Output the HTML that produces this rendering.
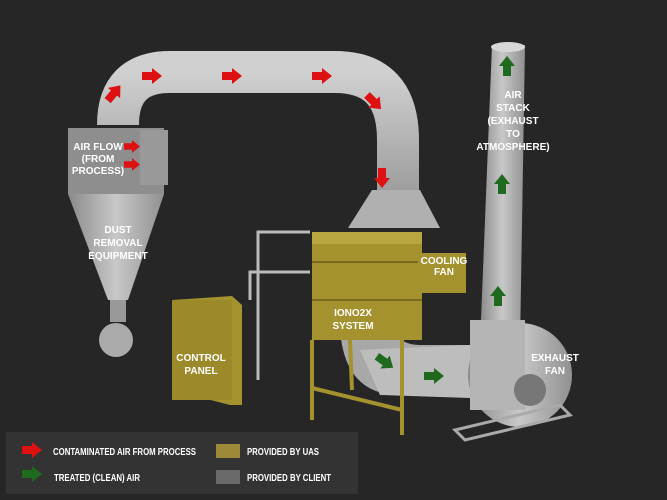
<!DOCTYPE html>
<html><head><style>
body{margin:0;background:#262626;}
svg{display:block}
text{font-family:"Liberation Sans",sans-serif;font-weight:bold;fill:#fff;font-size:10px}
</style></head><body>
<svg width="667" height="500" viewBox="0 0 667 500">
<defs>
<linearGradient id="g" x1="0" y1="0" x2="1" y2="0"><stop offset="0" stop-color="#8a8a8a"/><stop offset=".5" stop-color="#c8c8c8"/><stop offset="1" stop-color="#909090"/></linearGradient>
<linearGradient id="gv" x1="0" y1="0" x2="0" y2="1"><stop offset="0" stop-color="#d0d0d0"/><stop offset="1" stop-color="#9a9a9a"/></linearGradient>
<symbol id="ar" viewBox="0 0 20 16"><polygon points="0,4 10,4 10,0 20,8 10,16 10,12 0,12"/></symbol>
</defs>
<rect width="667" height="500" fill="#262626"/>
<path d="M118,125 Q118,72 170,72 L335,72 Q398,72 398,140 L398,200" fill="none" stroke="url(#gv)" stroke-width="42"/>
<polygon points="372,190 420,190 440,228 348,228" fill="#b0b0b0"/>
<polygon points="492,45 525,45 520,345 480,345" fill="url(#g)"/>
<ellipse cx="508" cy="47" rx="17" ry="5" fill="#d8d8d8"/>
<path d="M340,330 Q345,395 400,395 L470,395 L470,345 L420,345 Q400,345 395,330 Z" fill="#a8a8a8"/>
<polygon points="360,350 470,345 470,398 380,395" fill="#bdbdbd"/>
<circle cx="520" cy="375" r="52" fill="url(#g)"/>
<rect x="470" y="320" width="55" height="90" fill="#b4b4b4"/>
<polygon points="455,430 560,405 570,415 465,440" fill="none" stroke="#aaa" stroke-width="3"/>
<circle cx="530" cy="390" r="16" fill="#777"/>
<rect x="68" y="128" width="96" height="66" fill="#8e8e8e"/>
<rect x="140" y="130" width="28" height="55" fill="#999"/>
<polygon points="68,194 164,194 128,300 108,300" fill="url(#g)"/>
<rect x="110" y="300" width="16" height="22" fill="#999"/>
<circle cx="116" cy="340" r="17" fill="#aaa"/>
<path d="M310,232 L258,232 L258,380 M310,272 L250,272 L250,300" fill="none" stroke="#bbb" stroke-width="3"/>
<rect x="312" y="232" width="110" height="108" fill="#a4922e"/>
<rect x="312" y="232" width="110" height="12" fill="#b8a640"/>
<line x1="312" y1="262" x2="422" y2="262" stroke="#7a6a1e" stroke-width="2"/>
<line x1="312" y1="300" x2="422" y2="300" stroke="#7a6a1e" stroke-width="2"/>
<rect x="418" y="253" width="48" height="40" fill="#a4922e"/>
<g stroke="#a4922e" stroke-width="4"><line x1="312" y1="340" x2="312" y2="420"/><line x1="402" y1="340" x2="402" y2="435"/><line x1="350" y1="340" x2="352" y2="390"/><line x1="312" y1="388" x2="402" y2="410"/></g>
<polygon points="172,300 232,296 242,305 242,405 230,405 172,390" fill="#a4922e"/>
<rect x="172" y="300" width="60" height="100" fill="#9c8a2a"/>
<rect x="6" y="432" width="352" height="62" fill="#333"/>
<g fill="#d11"><use href="#ar" x="20" y="442" width="24" height="16"/></g>
<g fill="#1f6a1f"><use href="#ar" x="20" y="466" width="24" height="16"/></g>
<rect x="216" y="444" width="24" height="14" fill="#9c8a38"/>
<rect x="216" y="470" width="24" height="14" fill="#6a6a6a"/>
<text x="53" y="455" font-size="7" textLength="143" lengthAdjust="spacingAndGlyphs">CONTAMINATED AIR FROM PROCESS</text>
<text x="54" y="481" font-size="7" textLength="86" lengthAdjust="spacingAndGlyphs">TREATED (CLEAN) AIR</text>
<text x="247" y="455" font-size="7" textLength="72" lengthAdjust="spacingAndGlyphs">PROVIDED BY UAS</text>
<text x="247" y="481" font-size="7" textLength="84" lengthAdjust="spacingAndGlyphs">PROVIDED BY CLIENT</text>
<g fill="#d11">
<use href="#ar" x="104" y="85" width="20" height="16" transform="rotate(-50 114 93)"/>
<use href="#ar" x="142" y="68" width="20" height="16"/>
<use href="#ar" x="222" y="68" width="20" height="16"/>
<use href="#ar" x="312" y="68" width="20" height="16"/>
<use href="#ar" x="364" y="94" width="20" height="16" transform="rotate(45 374 102)"/>
<use href="#ar" x="372" y="170" width="20" height="16" transform="rotate(90 382 178)"/>
<use href="#ar" x="124" y="140" width="16" height="13"/>
<use href="#ar" x="124" y="158" width="16" height="13"/>
</g>
<g fill="#1f6a1f">
<use href="#ar" x="497" y="58" width="20" height="16" transform="rotate(-90 507 66)"/>
<use href="#ar" x="492" y="176" width="20" height="16" transform="rotate(-90 502 184)"/>
<use href="#ar" x="488" y="288" width="20" height="16" transform="rotate(-90 498 296)"/>
<use href="#ar" x="375" y="354" width="20" height="16" transform="rotate(35 385 362)"/>
<use href="#ar" x="424" y="368" width="20" height="16"/>
</g>
<g text-anchor="middle">
<text x="98" y="150">AIR FLOW</text><text x="98" y="162">(FROM</text><text x="98" y="174">PROCESS)</text>
<text x="118" y="233">DUST</text><text x="118" y="246">REMOVAL</text><text x="118" y="259">EQUIPMENT</text>
<text x="201" y="361">CONTROL</text><text x="201" y="374">PANEL</text>
<text x="353" y="316">IONO2X</text><text x="353" y="329">SYSTEM</text>
<text x="444" y="264" font-size="9">COOLING</text><text x="444" y="275" font-size="9">FAN</text>
<text x="513" y="98">AIR</text><text x="513" y="111">STACK</text><text x="513" y="124">(EXHAUST</text><text x="513" y="137">TO</text><text x="513" y="150">ATMOSPHERE)</text>
<text x="555" y="361">EXHAUST</text><text x="555" y="374">FAN</text>
</g>
</svg>
</body></html>
